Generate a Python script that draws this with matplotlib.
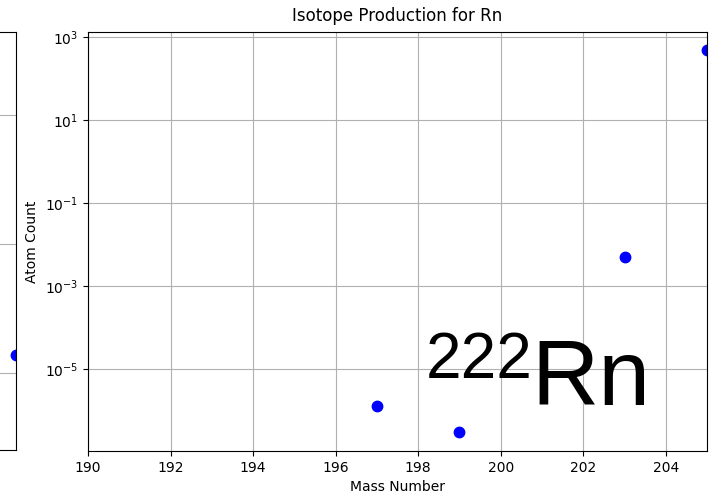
import matplotlib
matplotlib.use("Agg")
import matplotlib.pyplot as plt
from matplotlib.ticker import NullLocator

# Isotope production data for Rn
mass_numbers = [197, 199, 203, 205]
atom_counts = [1.3e-6, 3.0e-7, 5.0e-3, 490.0]

# Neighbouring panel (only its right edge is in view)
prev_mass = [1.0]
prev_counts = [1.9e-5]
prev_yticks = [1e-5, 1e-3, 1e-1]

x_ticks = [190, 192, 194, 196, 198, 200, 202, 204]

fig = plt.figure(figsize=(7.23, 4.93), dpi=100)

# neighbouring panel, mostly off-canvas
ax0 = fig.add_axes([-0.60, 0.0872, 0.6221, 0.8479])
ax0.plot(prev_mass, prev_counts, 'o', color='blue', markersize=7.5)
ax0.set_yscale('log')
ax0.set_xlim(0, 1)
ax0.set_ylim(10**-6.19, 10**0.29)
ax0.set_yticks(prev_yticks)
ax0.yaxis.set_minor_locator(NullLocator())
ax0.set_xticks([])
ax0.tick_params(labelleft=False)
ax0.grid(True, color='#b0b0b0')

ax = fig.add_axes([0.1217, 0.0852, 0.8563, 0.8499])
ax.plot(mass_numbers, atom_counts, 'o', color='blue', markersize=7.5)
ax.set_yscale('log')
ax.set_xlim(190, 205)
ax.set_ylim(10**-6.98, 10**3.12)
ax.set_xticks(x_ticks)
ax.grid(True, color='#b0b0b0')
ax.set_title('Isotope Production for Rn', pad=8)
ax.set_xlabel('Mass Number')
ax.set_ylabel('Atom Count')

ax.text(0.546, 0.174, '222', transform=ax.transAxes, fontsize=46,
        family='Liberation Sans', ha='left', va='baseline')
ax.text(0.716, 0.110, 'Rn', transform=ax.transAxes, fontsize=67,
        family='Liberation Sans', ha='left', va='baseline')

fig.savefig('out.png', dpi=100)
